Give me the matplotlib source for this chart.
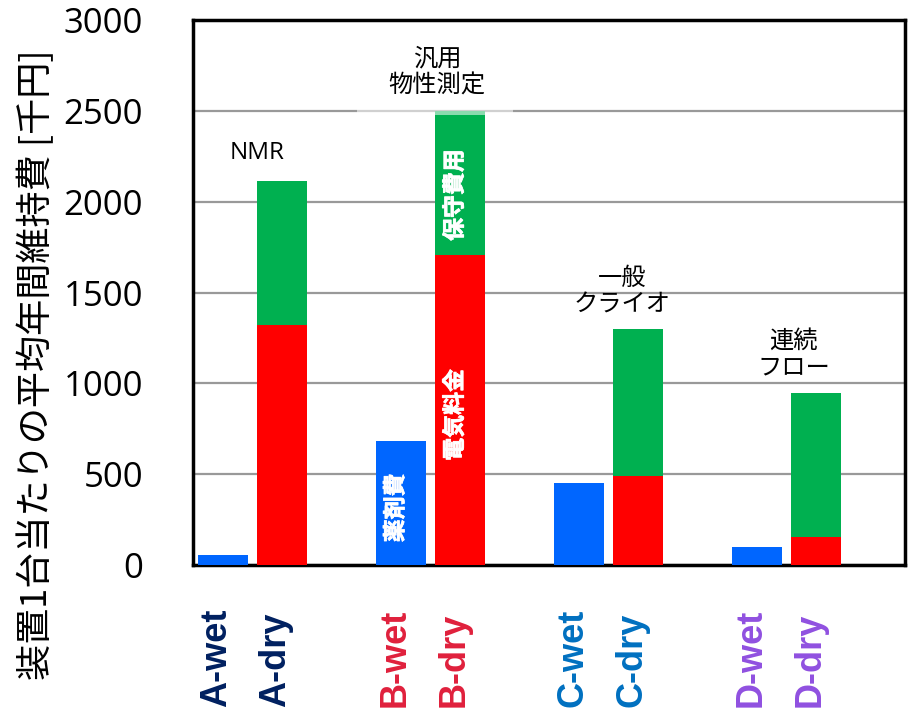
import matplotlib
matplotlib.use("Agg")
import matplotlib.pyplot as plt
import matplotlib.transforms as mtransforms
import matplotlib.patheffects as pe
from matplotlib.patches import Rectangle

plt.rcParams['font.family'] = ['Open Sans', 'Noto Sans CJK JP', 'DejaVu Sans']

# ---- data ----
groups = ['A', 'B', 'C', 'D']
wet_labels = ['A-wet', 'B-wet', 'C-wet', 'D-wet']
dry_labels = ['A-dry', 'B-dry', 'C-dry', 'D-dry']
label_colors = ['#002060', '#E0203C', '#0070C0', '#9050E0']
reagent = [55, 682, 451, 99]          # 薬剤費 (wet)
electricity = [1321, 1706, 490, 154]  # 電気料金 (dry)
maintenance = [792, 791, 809, 793]    # 保守費用 (dry)
group_names = ['NMR', '汎用\n物性測定', '一般\nクライオ', '連続\nフロー']
yticks = [0, 500, 1000, 1500, 2000, 2500, 3000]
ylabel = '装置1台当たりの平均年間維持費 [千円]'

BLUE = '#0066FF'
RED = '#FF0000'
GREEN = '#00B050'

fig = plt.figure(figsize=(9.09, 7.11), dpi=100)
ax = fig.add_axes([193/909, 1-565/711, (905-193)/909, (565-20)/711])

wet_x = [3*i for i in range(len(groups))]
dry_x = [3*i + 1 for i in range(len(groups))]
w = 0.84

ax.bar(wet_x, reagent, width=w, color=BLUE, zorder=3)
ax.bar(dry_x, electricity, width=w, color=RED, zorder=3)
ax.bar(dry_x, maintenance, width=w, bottom=electricity, color=GREEN, zorder=3)

ax.set_xlim(-0.5, 11.5)
ax.set_ylim(0, 3000)
ax.set_yticks(yticks)
ax.set_yticklabels([str(v) for v in yticks], fontsize=25)
ax.tick_params(axis='y', length=0, pad=36)
ax.set_xticks([])
ax.yaxis.grid(True, color='#999999', linewidth=1.6, zorder=0)
ax.set_axisbelow(True)
for s in ax.spines.values():
    s.set_color('black')
    s.set_linewidth(2.5)

# translucent box behind the 汎用 annotation
ax.add_patch(Rectangle((2.26, 2477), 4.89-2.26, 420, facecolor='white',
                       edgecolor='none', alpha=0.55, zorder=4))

# in-bar texts
bold_txt = dict(color='white', fontweight='bold', fontsize=16.5, rotation=90,
                ha='center', va='center', zorder=6,
                family=['Noto Sans CJK JP', 'DejaVu Sans'],
                path_effects=[pe.withStroke(linewidth=0.5, foreground='white')])
ax.text(wet_x[1] - 0.08, 314, '薬剤費', **bold_txt)
ax.text(dry_x[1] - 0.08, 826, '電気料金', **bold_txt)
ax.text(dry_x[1] - 0.08, 2036, '保守費用', **bold_txt)

# group annotations
ann_pos = [(0.58, 2267), (3.61, 2708), (6.73, 1502), (9.62, 1156)]
for name, (x, y) in zip(group_names, ann_pos):
    ax.text(x, y, name, fontsize=17.5, ha='center', va='center',
            linespacing=1.15, zorder=6)

# category labels below the axis
trans = mtransforms.blended_transform_factory(ax.transData, fig.transFigure)
for i in range(len(groups)):
    for x, lab in ((wet_x[i], wet_labels[i]), (dry_x[i], dry_labels[i])):
        ax.text(x - 0.1, 4/711, lab, transform=trans, rotation=90,
                ha='center', va='bottom', fontsize=26, fontweight='bold',
                color=label_colors[i], family='Liberation Sans')

fig.text(36/909, 1-365/711, ylabel, rotation=90, ha='center', va='center',
         fontsize=26, family=['Noto Sans CJK JP', 'DejaVu Sans'])

fig.savefig('out.png', dpi=100)
